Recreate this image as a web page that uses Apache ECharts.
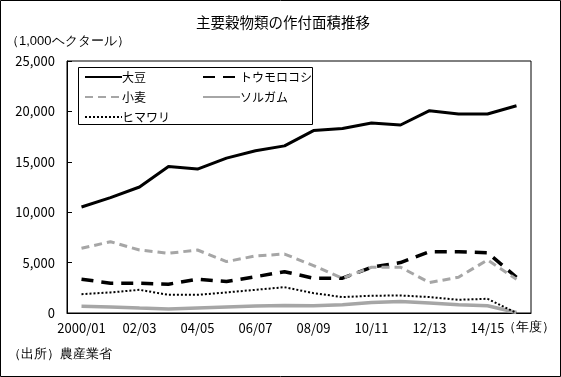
<!DOCTYPE html>
<html>
<head>
<meta charset="utf-8">
<script src="https://cdn.jsdelivr.net/npm/echarts@6/dist/echarts.min.js"></script>
<style>
  html, body { margin: 0; padding: 0; background: #fff; }
  #main { width: 561px; height: 377px; }
</style>
</head>
<body>
<div id="main"></div>
<script>
// 年度
var years = ['2000/01', '01/02', '02/03', '03/04', '04/05', '05/06', '06/07', '07/08',
  '08/09', '09/10', '10/11', '11/12', '12/13', '13/14', '14/15', '15/16'];

// 作付面積（1,000ヘクタール）
var daizu = [10520, 11450, 12500, 14540, 14280, 15360, 16100, 16580,
  18100, 18300, 18850, 18650, 20070, 19740, 19740, 20560];
var toumorokoshi = [3350, 2960, 2960, 2860, 3350, 3120, 3600, 4100,
  3450, 3450, 4540, 5000, 6080, 6080, 5980, 3550];
var komugi = [6420, 7070, 6250, 5920, 6250, 5100, 5660, 5850,
  4700, 3450, 4540, 4540, 3020, 3550, 5260, 3350];
var sorugamu = [660, 600, 490, 400, 500, 600, 700, 750,
  720, 820, 1050, 1150, 1000, 820, 720, 50];
var himawari = [1870, 2040, 2300, 1800, 1800, 2040, 2300, 2560,
  1970, 1580, 1710, 1740, 1580, 1310, 1410, 0];

var yTicks = [0, 5000, 10000, 15000, 20000, 25000];

var font = '"Noto Sans CJK JP", sans-serif';
var gray = '#a6a6a6';

var chartDom = document.getElementById('main');
var myChart = echarts.init(chartDom);

// 凡例（2列）の共通設定
var legendBase = {
  orient: 'vertical',
  top: 70,
  padding: 0,
  itemWidth: 37,
  itemHeight: 14,
  itemGap: 6,
  itemStyle: { opacity: 0 },
  textStyle: { fontSize: 12, color: '#000', fontFamily: font, padding: [0, 0, 0, -5], lineHeight: 14 }
};

var option = {
  animation: false,
  textStyle: { fontFamily: font, color: '#000' },
  title: {
    text: '主要穀物類の作付面積推移',
    left: 196,
    top: 15,
    padding: 0,
    textStyle: { fontSize: 14.5, fontWeight: 'normal', color: '#000', fontFamily: font }
  },
  grid: {
    left: 67,
    right: 30,
    top: 61,
    bottom: 64,
    show: true,
    borderColor: '#000',
    borderWidth: 1,
    backgroundColor: 'transparent'
  },
  legend: [
    Object.assign({}, legendBase, { left: 84, data: ['大豆', '小麦', 'ヒマワリ'] }),
    Object.assign({}, legendBase, { left: 202, data: ['トウモロコシ', 'ソルガム'] })
  ],
  xAxis: {
    type: 'category',
    data: years,
    boundaryGap: true,
    axisLine: { lineStyle: { color: '#000', width: 1 } },
    axisTick: { inside: true, length: 4, interval: 0, lineStyle: { color: '#000' } },
    axisLabel: { interval: 1, fontSize: 13, color: '#000', margin: 9, fontFamily: font },
    splitLine: { show: false }
  },
  yAxis: {
    type: 'value',
    min: yTicks[0],
    max: yTicks[yTicks.length - 1],
    interval: 5000,
    axisLine: { show: true, lineStyle: { color: '#000', width: 1 } },
    axisTick: { show: true, inside: true, length: 5, lineStyle: { color: '#000' } },
    axisLabel: {
      fontSize: 13,
      color: '#000',
      margin: 12,
      fontFamily: font,
      formatter: function (v) { return v.toLocaleString('en-US'); }
    },
    splitLine: { show: false }
  },
  graphic: [
    {
      // 外枠
      type: 'rect',
      shape: { x: 0.5, y: 0.5, width: 560, height: 376 },
      style: { fill: 'none', stroke: '#000', lineWidth: 1 },
      silent: true
    },
    {
      // 凡例の枠
      type: 'rect',
      shape: { x: 78.5, y: 67.5, width: 234, height: 57 },
      style: { fill: 'none', stroke: '#000', lineWidth: 1 },
      silent: true
    },
    {
      type: 'text',
      left: 6,
      top: 35,
      style: { text: '（1,000ヘクタール）', fontSize: 13, fill: '#000', font: '13px ' + font }
    },
    {
      type: 'text',
      left: 503,
      top: 321,
      style: { text: '（年度）', fontSize: 13, fill: '#000', font: '13px ' + font }
    },
    {
      type: 'text',
      left: 8,
      top: 348,
      style: { text: '（出所）農産業省', fontSize: 13, fill: '#000', font: '13px ' + font }
    }
  ],
  series: [
    {
      name: '大豆',
      type: 'line',
      data: daizu,
      symbol: 'none',
      lineStyle: { color: '#000', width: 3 },
      itemStyle: { color: '#000' }
    },
    {
      name: 'トウモロコシ',
      type: 'line',
      data: toumorokoshi,
      symbol: 'none',
      lineStyle: { color: '#000', width: 3.5, type: [12, 8] },
      itemStyle: { color: '#000' }
    },
    {
      name: '小麦',
      type: 'line',
      data: komugi,
      symbol: 'none',
      lineStyle: { color: gray, width: 3, type: [8, 5] },
      itemStyle: { color: gray }
    },
    {
      name: 'ソルガム',
      type: 'line',
      data: sorugamu,
      symbol: 'none',
      lineStyle: { color: gray, width: 3.5 },
      itemStyle: { color: gray }
    },
    {
      name: 'ヒマワリ',
      type: 'line',
      data: himawari,
      symbol: 'none',
      lineStyle: { color: '#000', width: 2, type: [2, 2] },
      itemStyle: { color: '#000' }
    }
  ]
};

myChart.setOption(option);
</script>
</body>
</html>
